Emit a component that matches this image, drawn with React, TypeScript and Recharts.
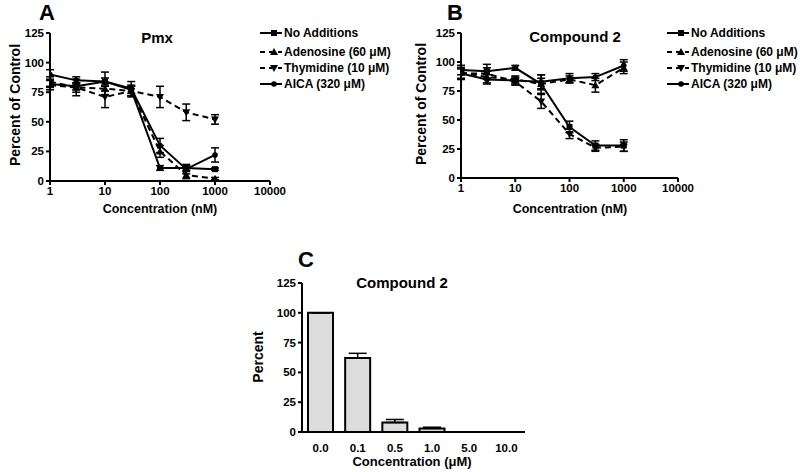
import React from 'react';
import { LineChart, Line, XAxis, YAxis, ErrorBar, BarChart, Bar } from 'recharts';

// concentrations (nM) for panels A and B
const concs = [1, 3, 10, 30, 100, 300, 1000];
const xTicks = [1, 10, 100, 1000, 10000];
const yTicks = [0, 25, 50, 75, 100, 125];

// Panel A - Pmx
const pmxNoAdd = [82, 80, 84, 77, 11, 11, 10];
const pmxNoAddErr = [3, 3, 3, 3, 2, 2, 1];
const pmxAdeno = [84, 79, 78, 76, 25, 5, 2];
const pmxAdenoErr = [4, 4, 5, 4, 5, 3, 1];
const pmxThym = [81, 79, 71, 76, 71, 58, 52];
const pmxThymErr = [4, 7, 9, 5, 9, 7, 4];
const pmxAica = [90, 85, 84, 78, 30, 10, 22];
const pmxAicaErr = [4, 3, 8, 6, 6, 4, 6];

// Panel B - Compound 2
const c2NoAdd = [93, 92, 95, 81, 44, 28, 28];
const c2NoAddErr = [4, 6, 2, 8, 5, 4, 5];
const c2Adeno = [91, 87, 85, 81, 85, 80, 95];
const c2AdenoErr = [6, 5, 3, 5, 3, 6, 5];
const c2Thym = [90, 90, 83, 66, 38, 26, 27];
const c2ThymErr = [5, 5, 3, 6, 4, 3, 4];
const c2Aica = [90, 85, 84, 83, 86, 87, 97];
const c2AicaErr = [4, 4, 3, 6, 4, 3, 5];

// Panel C
const cCats = ['0.0', '0.1', '0.5', '1.0', '5.0', '10.0'];
const cVals = [100, 62, 8, 3, 0, 0];
const cErr = [0, 4, 2.5, 1, 0, 0];

const FONT = '"Liberation Sans", Arial, sans-serif';

const buildRows = (a: number[], ae: number[], b: number[], be: number[], t: number[], te: number[], c: number[], ce: number[]) =>
  concs.map((x, i) => ({
    conc: x,
    noAdd: a[i], noAddErr: ae[i],
    adeno: b[i], adenoErr: be[i],
    thym: t[i], thymErr: te[i],
    aica: c[i], aicaErr: ce[i],
  }));

const pmxRows = buildRows(pmxNoAdd, pmxNoAddErr, pmxAdeno, pmxAdenoErr, pmxThym, pmxThymErr, pmxAica, pmxAicaErr);
const c2Rows = buildRows(c2NoAdd, c2NoAddErr, c2Adeno, c2AdenoErr, c2Thym, c2ThymErr, c2Aica, c2AicaErr);
const cRows = cCats.map((k, i) => ({ cat: k, val: cVals[i], err: [0, cErr[i]] }));

type Shape = 'square' | 'up' | 'down' | 'circle';

const marker = (shape: Shape, cx: number, cy: number, key?: any) => {
  if (shape === 'square') return <rect key={key} x={cx - 3} y={cy - 3} width={6} height={6} fill="#000" />;
  if (shape === 'circle') return <circle key={key} cx={cx} cy={cy} r={2.8} fill="#000" />;
  if (shape === 'up')
    return <polygon key={key} points={`${cx},${cy - 4} ${cx + 4},${cy + 3} ${cx - 4},${cy + 3}`} fill="#000" />;
  return <polygon key={key} points={`${cx},${cy + 4} ${cx + 4},${cy - 3} ${cx - 4},${cy - 3}`} fill="#000" />;
};

const dotFn = (shape: Shape) => (p: any) => marker(shape, p.cx, p.cy, `${shape}-${p.index}`);

const series: { key: string; name: string; shape: Shape; dashed: boolean }[] = [
  { key: 'noAdd', name: 'No Additions', shape: 'square', dashed: false },
  { key: 'adeno', name: 'Adenosine (60 μM)', shape: 'up', dashed: true },
  { key: 'thym', name: 'Thymidine (10 μM)', shape: 'down', dashed: true },
  { key: 'aica', name: 'AICA (320 μM)', shape: 'circle', dashed: false },
];

const tickStyle = { fontSize: 11.5, fontWeight: 700, fill: '#000', fontFamily: FONT };
const axisLine = { stroke: '#000', strokeWidth: 2 };
const tickLine = { stroke: '#000', strokeWidth: 2 };

const Legend = ({ left, top }: { left: number; top: number }) => (
  <div style={{ position: 'absolute', left, top }}>
    {series.map((s, i) => (
      <div key={s.key} style={{ position: 'absolute', top: [0, 19, 35, 51][i] - 8, left: 0, whiteSpace: 'nowrap', display: 'flex', alignItems: 'center', height: 16 }}>
        <svg width={23} height={10}>
          <line x1={0} y1={5} x2={22} y2={5} stroke="#000" strokeWidth={2} strokeDasharray={s.dashed ? '5 4' : undefined} />
          {marker(s.shape, 14, 5)}
        </svg>
        <span style={{ fontSize: 12, fontWeight: 700, marginLeft: 1 }}>{s.name}</span>
      </div>
    ))}
  </div>
);

const Text = ({ x, y, size, children, rotate }: { x: number; y: number; size: number; children: React.ReactNode; rotate?: boolean }) => (
  <div
    style={{
      position: 'absolute', left: x, top: y, fontSize: size, fontWeight: 700, whiteSpace: 'nowrap', lineHeight: 1,
      transform: `translate(-50%, -50%)${rotate ? ' rotate(-90deg)' : ''}`,
    }}
  >
    {children}
  </div>
);

const DoseChart = ({ rows, left, yWidth, bottomH, right }: { rows: any[]; left: number; yWidth: number; bottomH: number; right: number }) => (
  <div style={{ position: 'absolute', left, top: 0 }}>
    <LineChart width={400} height={220} data={rows} margin={{ top: 33, right, bottom: 0, left: 0 }}>
      <XAxis
        dataKey="conc" type="number" scale="log" domain={[1, 10000]} ticks={xTicks} allowDataOverflow
        height={bottomH} axisLine={axisLine} tickLine={tickLine} tickSize={4} tick={tickStyle} interval={0}
      />
      <YAxis
        type="number" domain={[0, 125]} ticks={yTicks} width={yWidth}
        axisLine={axisLine} tickLine={tickLine} tickSize={4} tick={tickStyle} interval={0}
      />
      {series.map((s) => (
        <Line
          key={s.key} dataKey={s.key} stroke="#000" strokeWidth={2} strokeDasharray={s.dashed ? '6 4' : undefined}
          dot={dotFn(s.shape)} activeDot={false} isAnimationActive={false} type="linear"
        >
          <ErrorBar dataKey={`${s.key}Err`} width={4} stroke="#000" strokeWidth={1.5} direction="y" />
        </Line>
      ))}
    </LineChart>
  </div>
);

export default function App() {
  return (
    <div style={{ position: 'absolute', left: 0, top: 0, width: 800, height: 472, background: '#fff', fontFamily: FONT, color: '#000', overflow: 'hidden' }}>
      {/* Panel A */}
      <DoseChart rows={pmxRows} left={0} yWidth={50} bottomH={39} right={130} />
      <Text x={47} y={13} size={22}>A</Text>
      <Text x={157} y={37} size={15}>Pmx</Text>
      <Text x={15} y={105} size={14} rotate>Percent of Control</Text>
      <Text x={160} y={209} size={12.5}>Concentration (nM)</Text>
      <Legend left={260} top={33} />

      {/* Panel B */}
      <DoseChart rows={c2Rows} left={400} yWidth={61} bottomH={42} right={122} />
      <Text x={455} y={13} size={22}>B</Text>
      <Text x={575} y={36} size={15}>Compound 2</Text>
      <Text x={421} y={104} size={14} rotate>Percent of Control</Text>
      <Text x={570} y={209} size={12.5}>Concentration (nM)</Text>
      <Legend left={667} top={33} />

      {/* Panel C */}
      <div style={{ position: 'absolute', left: 240, top: 250 }}>
        <BarChart width={300} height={222} data={cRows} margin={{ top: 33, right: 15, bottom: 0, left: 0 }}>
          <XAxis dataKey="cat" height={40} axisLine={axisLine} tickLine={false} tick={tickStyle} interval={0} tickMargin={6} />
          <YAxis
            type="number" domain={[0, 125]} ticks={yTicks} width={62}
            axisLine={axisLine} tickLine={tickLine} tickSize={4} tick={tickStyle} interval={0}
          />
          <Bar dataKey="val" fill="#dcdcdc" stroke="#000" strokeWidth={2} barSize={25} isAnimationActive={false}>
            <ErrorBar dataKey="err" width={9} stroke="#000" strokeWidth={1.5} direction="y" />
          </Bar>
        </BarChart>
      </div>
      <Text x={306} y={260} size={22}>C</Text>
      <Text x={402} y={282} size={15}>Compound 2</Text>
      <Text x={258} y={357} size={14} rotate>Percent</Text>
      <Text x={412} y={461} size={13}>Concentration (μM)</Text>
    </div>
  );
}
